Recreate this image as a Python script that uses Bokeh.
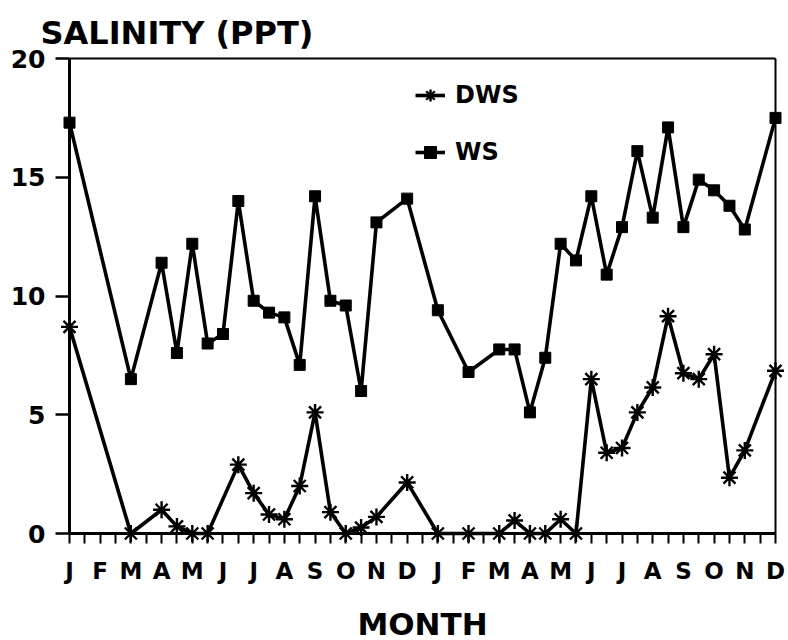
from bokeh.plotting import figure
from bokeh.models import (FixedTicker, LinearAxis, Legend, LegendItem, Label, Range1d)
from bokeh.embed import file_html
from bokeh.resources import INLINE

# Month letters for two consecutive years (Jan..Dec, Jan..Dec)
month_labels = ["J", "F", "M", "A", "M", "J", "J", "A", "S", "O", "N", "D",
                "J", "F", "M", "A", "M", "J", "J", "A", "S", "O", "N", "D"]
salinity_ticks = [0, 5, 10, 15, 20]

# DWS station: sample time (months from first January) and salinity (ppt)
dws_month = [0, 2, 3, 3.5, 4, 4.5, 5.5, 6, 6.5, 7, 7.5, 8, 8.5, 9, 9.5, 10, 11,
             12, 13, 14, 14.5, 15, 15.5, 16, 16.5, 17, 17.5, 18, 18.5, 19, 19.5,
             20, 20.5, 21, 21.5, 22, 23]
dws_salinity = [8.7, 0, 1.0, 0.3, 0, 0, 2.9, 1.7, 0.8, 0.6, 2.0, 5.1, 0.9, 0, 0.25, 0.7, 2.15,
                0, 0, 0, 0.55, 0, 0, 0.6, 0, 6.5, 3.4, 3.6, 5.1, 6.15, 9.15,
                6.75, 6.5, 7.55, 2.35, 3.5, 6.85]

# WS station
ws_month = [0, 2, 3, 3.5, 4, 4.5, 5, 5.5, 6, 6.5, 7, 7.5, 8, 8.5, 9, 9.5, 10, 11,
            12, 13, 14, 14.5, 15, 15.5, 16, 16.5, 17, 17.5, 18, 18.5, 19, 19.5,
            20, 20.5, 21, 21.5, 22, 23]
ws_salinity = [17.3, 6.5, 11.4, 7.6, 12.2, 8.0, 8.4, 14.0, 9.8, 9.3, 9.1, 7.1, 14.2, 9.8, 9.6, 6.0, 13.1, 14.1,
               9.4, 6.8, 7.75, 7.75, 5.1, 7.4, 12.2, 11.5, 14.2, 10.9, 12.9, 16.1, 13.3, 17.1,
               12.9, 14.9, 14.45, 13.8, 12.8, 17.5]

FONT = "DejaVu Sans"
W, H = 788, 640
n_months = len(month_labels)

# The frame covers the whole canvas; axes are pinned inside it so that
# tick labels and titles are not clipped away.
px_month = (775 - 69) / (n_months - 1)
px_unit = (533 - 58) / 20.0
x_range = Range1d(-69 / px_month, (n_months - 1) + (W - 775) / px_month)
y_range = Range1d(-(H - 533) / px_unit, 20 + 58 / px_unit)

p = figure(frame_width=W, frame_height=H, min_border=0,
           x_range=x_range, y_range=y_range,
           x_axis_type=None, y_axis_type=None,
           output_backend="svg", toolbar_location=None)
p.outline_line_color = None
p.background_fill_color = "white"
p.border_fill_color = "white"

# Bottom axis pinned at salinity 0, ticks every half month, letters on whole months
xaxis = LinearAxis(
    fixed_location=0, bounds=(0, n_months - 1),
    ticker=FixedTicker(ticks=list(range(n_months)),
                       minor_ticks=[i + 0.5 for i in range(n_months - 1)]),
    major_label_overrides={i: m for i, m in enumerate(month_labels)},
    axis_line_width=3, axis_line_color="black",
    major_tick_in=0, major_tick_out=10, minor_tick_in=0, minor_tick_out=10,
    major_tick_line_width=2, minor_tick_line_width=2,
    major_label_standoff=14,
    major_label_text_font=FONT, major_label_text_font_style="bold",
    major_label_text_font_size="23px", major_label_text_color="black",
    axis_label="MONTH", axis_label_text_font=FONT, axis_label_text_font_style="bold",
    axis_label_text_font_size="31px", axis_label_text_color="black",
    axis_label_standoff=19,
)
p.add_layout(xaxis, "below")

# Left axis pinned at the first January
yaxis = LinearAxis(
    fixed_location=0, bounds=(0, 20),
    ticker=FixedTicker(ticks=salinity_ticks, minor_ticks=[]),
    axis_line_width=3, axis_line_color="black",
    major_tick_in=0, major_tick_out=14, major_tick_line_width=2.5,
    minor_tick_in=0, minor_tick_out=0,
    major_label_standoff=10,
    major_label_text_font=FONT, major_label_text_font_style="bold",
    major_label_text_font_size="25px", major_label_text_color="black",
)
p.add_layout(yaxis, "left")

# Frame lines on top and right
right_line = LinearAxis(fixed_location=n_months - 1, bounds=(0, 20),
                        ticker=FixedTicker(ticks=[], minor_ticks=[]),
                        axis_line_width=2, major_tick_out=0, minor_tick_out=0)
p.add_layout(right_line, "right")
top_line = LinearAxis(fixed_location=20, bounds=(0, n_months - 1),
                      ticker=FixedTicker(ticks=[], minor_ticks=[]),
                      axis_line_width=2, major_tick_out=0, minor_tick_out=0)
p.add_layout(top_line, "above")

# Series
ws_line = p.line(ws_month, ws_salinity, line_color="black", line_width=3.6)
ws_pts = p.scatter(ws_month, ws_salinity, marker="square", size=11,
                   fill_color="black", line_color="black")
dws_line = p.line(dws_month, dws_salinity, line_color="black", line_width=3.6)
dws_pts = p.scatter(dws_month, dws_salinity, marker="asterisk", size=17,
                    line_color="black", line_width=2.4)

legend = Legend(
    items=[LegendItem(label="DWS", renderers=[dws_line, dws_pts]),
           LegendItem(label="WS", renderers=[ws_line, ws_pts])],
    location=(415, 473), glyph_width=30, glyph_height=30, label_height=30,
    spacing=27, padding=0, margin=0, label_standoff=10,
    border_line_color=None, background_fill_alpha=0,
    label_text_font=FONT, label_text_font_style="bold",
    label_text_font_size="24px", label_text_color="black",
)
p.add_layout(legend)

title = Label(x=-29 / px_month, y=(533 - 32) / px_unit, text="SALINITY (PPT)",
              text_font=FONT, text_font_style="bold", text_font_size="32px",
              text_color="black", text_baseline="alphabetic", text_align="left")
p.add_layout(title)

open("out.html", "w").write(file_html(p, INLINE))
